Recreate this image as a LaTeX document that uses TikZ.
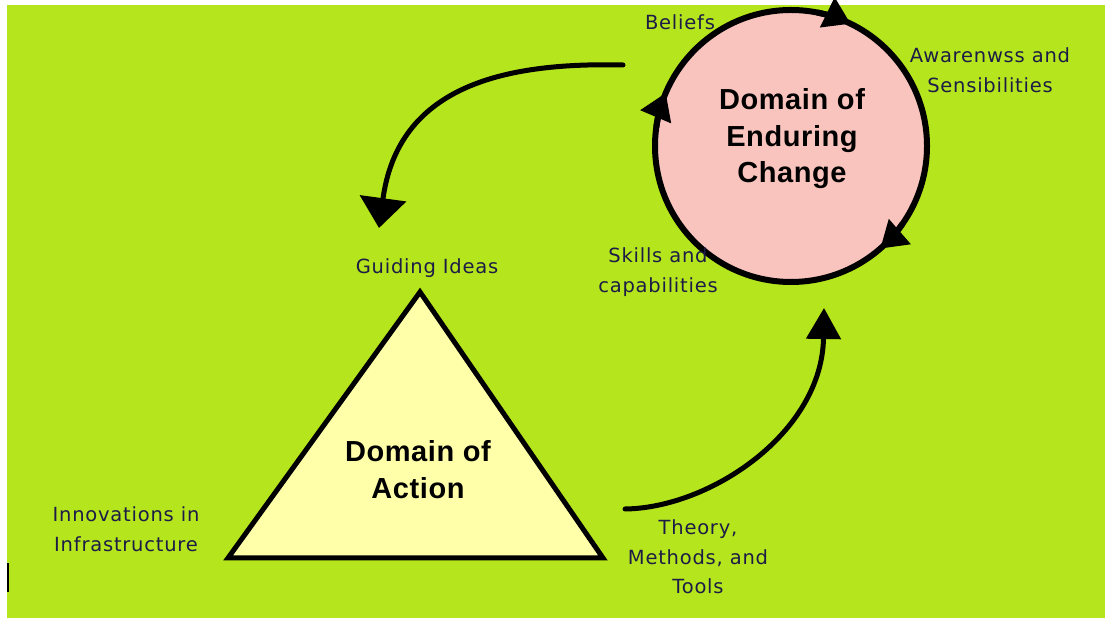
\documentclass[tikz,border=0pt]{standalone}
\usepackage{fontspec}
\setmainfont{Liberation Sans}
\newfontfamily\labfont[LetterSpace=4]{DejaVu Sans}
\newfontfamily\titfont[LetterSpace=2]{Liberation Sans}
\usetikzlibrary{arrows.meta}
\definecolor{bggreen}{RGB}{181,229,29}
\definecolor{pinkfill}{RGB}{250,196,190}
\definecolor{yelfill}{RGB}{255,255,170}
\definecolor{labcol}{RGB}{28,28,70}
\begin{document}
\begin{tikzpicture}[x=1pt,y=1pt,
  lab/.style={font=\labfont\fontsize{19.5}{29.5}\selectfont, text=labcol, align=center, inner sep=0pt},
  title/.style={font=\titfont\bfseries\fontsize{29}{36.5}\selectfont, align=center, inner sep=0pt},
  flow/.style={line width=5pt, line cap=round},
  cyc/.style={line width=6pt, -{Triangle[length=26pt,width=32pt]}}
  ]
\useasboundingbox (0,0) rectangle (1105,618);
\fill[white] (0,0) rectangle (1105,618);
\fill[bggreen] (7,0) rectangle (1105,613);
\draw[line width=2.5pt] (8,26) -- (8,55);

% Domain of Enduring Change
\node[circle, draw, line width=6pt, fill=pinkfill, minimum size=272pt, inner sep=0pt, outer sep=0pt] (ch) at (791,472) {};
\node[title] (chtext) at (792,479) {Domain of\\Enduring\\Change};
\draw[cyc] (ch.79) arc[start angle=79, end angle=64, radius=136pt];
\draw[cyc] (ch.172) arc[start angle=172, end angle=157, radius=136pt];
\draw[cyc] (ch.-35) arc[start angle=-35, end angle=-49, radius=136pt];

% Domain of Action
\coordinate (apex) at (420,326);
\coordinate (bl) at (228,60);
\coordinate (br) at (603,60);
\filldraw[fill=yelfill, line width=5pt, line join=miter] (apex) -- (bl) -- (br) -- cycle;
\node[title] (act) at (418,148.5) {Domain of\\Action};

% connectors
\coordinate (s1) at (623,553);
\coordinate (e1) at (379,390);
\coordinate (s2) at (625,109);
\coordinate (e2) at (824,310);
\draw[flow, -{Triangle[length=30pt,width=46pt]}] (s1) .. controls (500,556) and (398,530) .. (e1);
\draw[flow, -{Triangle[length=31pt,width=34pt]}] (s2) .. controls (710,110) and (822,185) .. (e2);

% labels
\node[lab] (beliefs) at (680,596) {Beliefs};
\node[lab] (aware) at (990,548) {Awarenwss and\\Sensibilities};
\node[lab] (skills) at (658,346) {Skills and\\capabilities};
\node[lab] (guide) at (427,350) {Guiding Ideas};
\node[lab] (innov) at (126,89) {Innovations in\\Infrastructure};
\node[lab] (theory) at (698,61) {Theory,\\Methods, and\\Tools};
\end{tikzpicture}
\end{document}
